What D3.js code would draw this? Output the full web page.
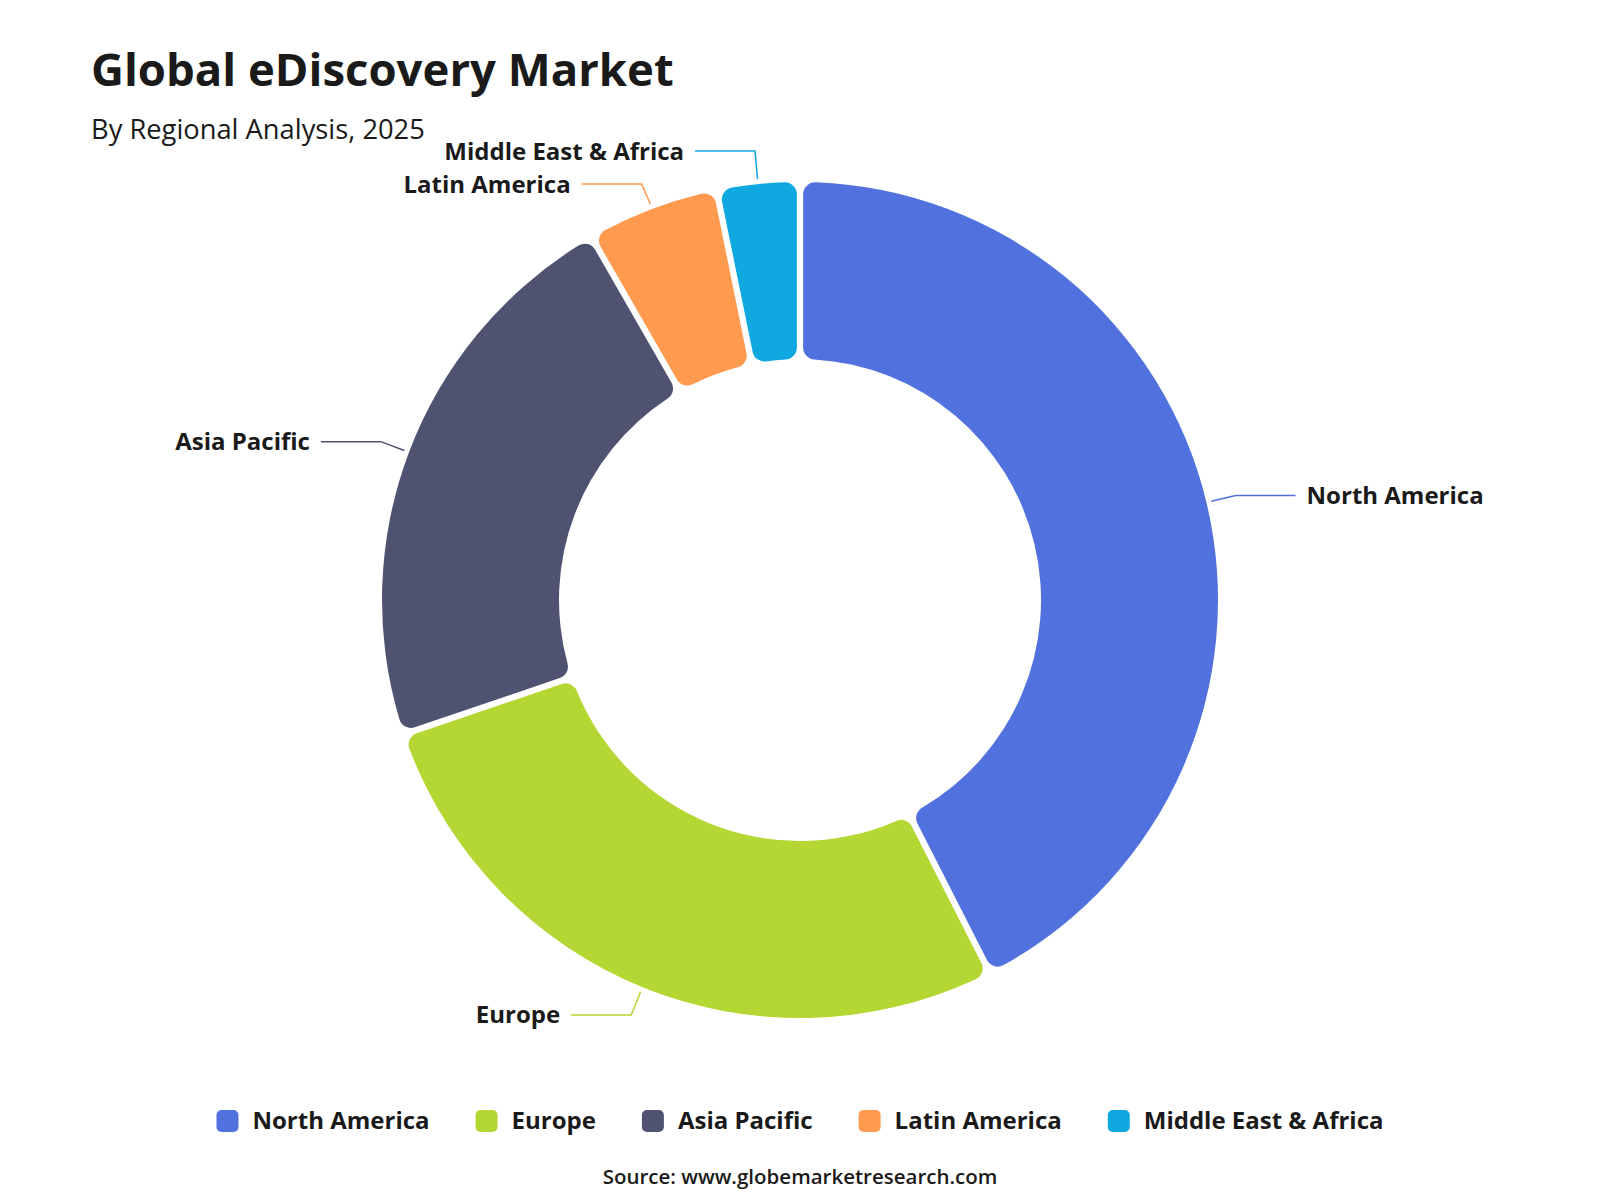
<!DOCTYPE html>
<html>
<head>
<meta charset="utf-8">
<script src="https://cdn.jsdelivr.net/npm/d3@7"></script>
<style>
  html, body { margin: 0; padding: 0; background: #fff; }
  svg { display: block; font-family: "Open Sans", "Noto Sans", sans-serif; }
</style>
</head>
<body>
<svg id="chart" width="1600" height="1200"></svg>
<script>
const regions = ["North America", "Europe", "Asia Pacific", "Latin America", "Middle East & Africa"];
const shares = [42.5, 27.3, 21.9, 5.1, 3.2];
const colors = ["#5171de", "#b5d733", "#4f5371", "#ff9a4f", "#10a8e0"];
const titleText = "Global eDiscovery Market";
const subtitleText = "By Regional Analysis, 2025";
const sourceText = "Source: www.globemarketresearch.com";

const svg = d3.select("#chart");
const W = 1600, H = 1200;
const cx = 800, cy = 600, outerR = 418, innerR = 241;

svg.append("text").attr("x", 91).attr("y", 86)
  .attr("font-size", 45.5).attr("font-weight", 700).attr("fill", "#1a1a1a")
  .text(titleText);
svg.append("text").attr("x", 91).attr("y", 139)
  .attr("font-size", 27.3).attr("font-weight", 400).attr("fill", "#1a1a1a")
  .text(subtitleText);

const data = regions.map((r, i) => ({ region: r, value: shares[i], color: colors[i] }));
const pie = d3.pie().value(d => d.value).sort(null);
const arcs = pie(data);
const arc = d3.arc().innerRadius(innerR).outerRadius(outerR)
  .cornerRadius(12).padAngle(0.013);

const g = svg.append("g").attr("transform", `translate(${cx},${cy})`);
g.selectAll("path.slice").data(arcs).join("path")
  .attr("class", "slice")
  .attr("d", arc)
  .attr("fill", d => d.data.color);

// leader lines and labels
const r1 = outerR + 5, r2 = outerR + 30, hLen = 60, labelFont = 24, minGap = 33;
const labels = arcs.map(a => {
  const mid = (a.startAngle + a.endAngle) / 2;
  const sx = Math.sin(mid), sy = -Math.cos(mid);
  return {
    a, right: sx >= 0,
    p1: [sx * r1, sy * r1],
    p2: [sx * r2, sy * r2],
    y: sy * r2
  };
});
// simple vertical de-overlap per side
["left", "right"].forEach(side => {
  const grp = labels.filter(l => (side === "right") === l.right).sort((u, v) => u.y - v.y);
  for (let i = 1; i < grp.length; i++) {
    const d = grp[i].y - grp[i - 1].y;
    if (d < minGap) {
      const shift = (minGap - d) / 2;
      grp[i - 1].y -= shift;
      grp[i].y += shift;
    }
  }
});
labels.forEach(l => {
  const p2 = [l.p2[0], l.y];
  const p3 = [p2[0] + (l.right ? hLen : -hLen), l.y];
  g.append("polyline")
    .attr("points", [l.p1, p2, p3].map(p => p.join(",")).join(" "))
    .attr("fill", "none").attr("stroke", l.a.data.color).attr("stroke-width", 1.5);
  g.append("text")
    .attr("x", p3[0] + (l.right ? 11 : -11)).attr("y", l.y)
    .attr("dy", "0.35em")
    .attr("text-anchor", l.right ? "start" : "end")
    .attr("font-size", labelFont).attr("font-weight", 700).attr("fill", "#1a1a1a")
    .text(l.a.data.region);
});

// legend
const legend = svg.append("g");
const sq = 22, gapText = 14, gapItem = 46, legY = 1121;
let x = 0;
data.forEach(d => {
  const it = legend.append("g").attr("transform", `translate(${x},0)`);
  it.append("rect").attr("x", 0).attr("y", legY - sq / 2).attr("width", sq).attr("height", sq)
    .attr("rx", 5).attr("fill", d.color);
  const t = it.append("text").attr("x", sq + gapText).attr("y", legY).attr("dy", "0.35em")
    .attr("font-size", labelFont).attr("font-weight", 700).attr("fill", "#1a1a1a").text(d.region);
  const w = t.node().getComputedTextLength();
  x += sq + gapText + w + gapItem;
});
const totalW = x - gapItem;
legend.attr("transform", `translate(${(W - totalW) / 2},0)`);

svg.append("text").attr("x", W / 2).attr("y", 1177).attr("dy", "0.35em")
  .attr("text-anchor", "middle").attr("font-size", 20.5).attr("font-weight", 600)
  .attr("fill", "#1a1a1a").text(sourceText);
</script>
</body>
</html>
